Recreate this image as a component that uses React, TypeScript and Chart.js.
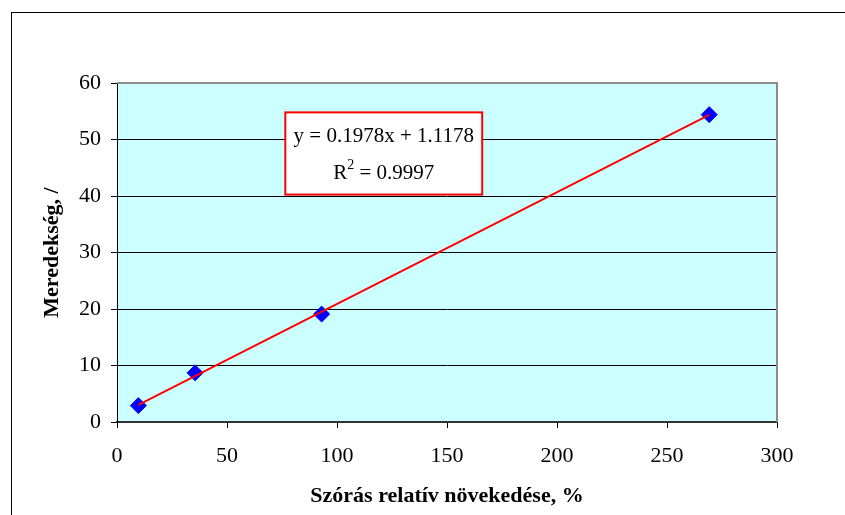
import React, { useEffect, useRef } from "react";
import { Chart, registerables } from "chart.js";

Chart.register(...registerables);

const xValues = [9.7, 35.5, 93.0, 269.2];
const yValues = [2.9, 8.7, 19.1, 54.4];
const slope = 0.1978;
const intercept = 1.1178;
const equationText = "y = 0.1978x + 1.1178";
const r2Value = "0.9997";
const xTitle = "Szórás relatív növekedése, %";
const yTitle = "Meredekség, /";

const FONT = "'Liberation Serif', 'Times New Roman', serif";

export default function App() {
  const ref = useRef<HTMLCanvasElement | null>(null);

  useEffect(() => {
    if (!ref.current) return;
    const points = xValues.map((x, i) => ({ x, y: yValues[i] }));
    const xMin = Math.min(...xValues);
    const xMax = Math.max(...xValues);
    const trend = [
      { x: xMin, y: slope * xMin + intercept },
      { x: xMax, y: slope * xMax + intercept },
    ];

    const decor = {
      id: "decor",
      beforeDraw(chart: any) {
        const { ctx, chartArea: a } = chart;
        ctx.save();
        ctx.fillStyle = "#CCFFFF";
        ctx.fillRect(a.left, a.top, a.right - a.left, a.bottom - a.top);
        ctx.strokeStyle = "#000";
        ctx.lineWidth = 1;
        ctx.strokeRect(11.5, 12.5, 1000, 1000);
        ctx.restore();
      },
      beforeDatasetsDraw(chart: any) {
        const { ctx, chartArea: a } = chart;
        ctx.save();
        ctx.strokeStyle = "#8C8C8C";
        ctx.lineWidth = 2;
        ctx.beginPath();
        ctx.moveTo(a.left, a.top);
        ctx.lineTo(a.right, a.top);
        ctx.lineTo(a.right, a.bottom);
        ctx.stroke();
        ctx.restore();
      },
      afterDraw(chart: any) {
        const { ctx } = chart;
        const xs = chart.scales.x;
        const ys = chart.scales.y;
        const l = xs.getPixelForValue(76.5);
        const r = xs.getPixelForValue(166);
        const t = ys.getPixelForValue(54.8);
        const b = ys.getPixelForValue(40.25);
        ctx.save();
        ctx.fillStyle = "#fff";
        ctx.fillRect(l, t, r - l, b - t);
        ctx.strokeStyle = "#FF0000";
        ctx.lineWidth = 2;
        ctx.strokeRect(l, t, r - l, b - t);
        const cx = (l + r) / 2;
        ctx.fillStyle = "#000";
        ctx.textBaseline = "alphabetic";
        ctx.textAlign = "center";
        ctx.font = `21px ${FONT}`;
        ctx.fillText(equationText, cx, t + 30);
        const part1 = "R";
        const part3 = " = " + r2Value;
        ctx.font = `21px ${FONT}`;
        const w1 = ctx.measureText(part1).width;
        const w3 = ctx.measureText(part3).width;
        ctx.font = `14px ${FONT}`;
        const w2 = ctx.measureText("2").width;
        const total = w1 + w2 + w3;
        const x0 = cx - total / 2;
        const base = t + 67;
        ctx.textAlign = "left";
        ctx.font = `21px ${FONT}`;
        ctx.fillText(part1, x0, base);
        ctx.font = `14px ${FONT}`;
        ctx.fillText("2", x0 + w1, base - 10);
        ctx.font = `21px ${FONT}`;
        ctx.fillText(part3, x0 + w1 + w2, base);
        ctx.restore();
      },
    };

    const chart = new Chart(ref.current, {
      type: "scatter",
      data: {
        datasets: [
          {
            label: "trend",
            type: "line",
            data: trend,
            borderColor: "#FF0000",
            borderWidth: 2,
            pointRadius: 0,
            fill: false,
            order: 0,
          } as any,
          {
            label: "data",
            data: points,
            pointStyle: "rectRot",
            pointRadius: 8,
            backgroundColor: "#0000FF",
            borderColor: "#0000FF",
            borderWidth: 1,
            order: 1,
          },
        ],
      },
      options: {
        animation: false,
        responsive: false,
        layout: { padding: { left: 0, top: 83, right: 68, bottom: 0 } },
        plugins: { legend: { display: false }, tooltip: { enabled: false } },
        scales: {
          x: {
            type: "linear",
            min: 0,
            max: 300,
            ticks: { stepSize: 50, color: "#000", font: { family: FONT, size: 22 }, padding: 15 },
            grid: { drawOnChartArea: false, color: "#000", tickLength: 6 },
            border: { color: "#333", width: 2 },
            title: {
              display: true,
              text: xTitle,
              color: "#000",
              font: { family: FONT, size: 22, weight: "bold" },
              padding: { top: 0, bottom: 5 },
            },
            afterFit: (s: any) => {
              s.height = 93;
            },
          },
          y: {
            type: "linear",
            min: 0,
            max: 60,
            ticks: { stepSize: 10, color: "#000", font: { family: FONT, size: 22 }, padding: 10 },
            grid: { color: "#000", tickLength: 6 },
            border: { color: "#000", width: 1 },
            title: {
              display: true,
              text: yTitle,
              color: "#000",
              font: { family: FONT, size: 22, weight: "bold" },
              padding: { top: 39, bottom: 0 },
            },
            afterFit: (s: any) => {
              s.width = 117;
            },
          },
        },
      },
      plugins: [decor],
    });
    return () => chart.destroy();
  }, []);

  return (
    <div style={{ position: "fixed", left: 0, top: 0, width: 845, height: 515, background: "#fff" }}>
      <canvas ref={ref} width={845} height={515} />
    </div>
  );
}
